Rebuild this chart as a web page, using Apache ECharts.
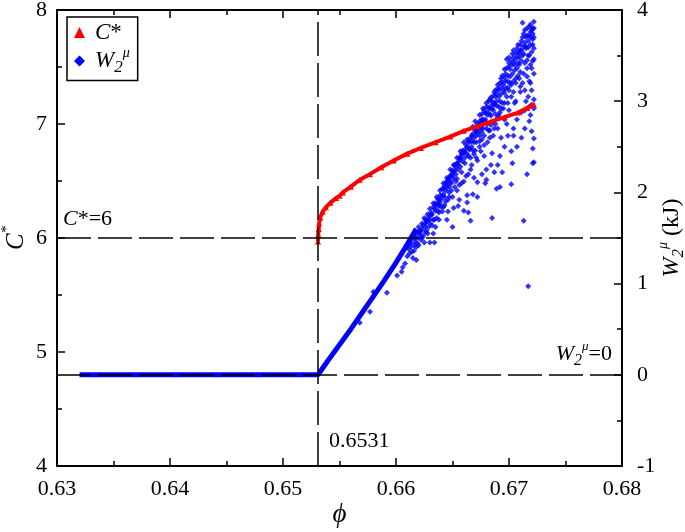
<!DOCTYPE html>
<html><head><meta charset="utf-8">
<script src="https://cdn.jsdelivr.net/npm/echarts@6/dist/echarts.min.js"></script>
<style>html,body{margin:0;padding:0;background:#fff}#c{width:685px;height:532px}</style>
</head><body><div id="c"></div>
<script>
// ---- data ----
const phiTicks = [0.63, 0.64, 0.65, 0.66, 0.67, 0.68];
const cStarTicks = [4, 5, 6, 7, 8];
const w2Ticks = [-1, 0, 1, 2, 3, 4];

const cStarPhi = [0.6531, 0.65312, 0.65316, 0.6532, 0.6533, 0.6535, 0.6538, 0.6542, 0.6547, 0.655, 0.6553, 0.656, 0.6568, 0.6577, 0.6587, 0.6598, 0.661, 0.6622, 0.6635, 0.6648, 0.666, 0.6672, 0.6684, 0.6696, 0.6708, 0.6716, 0.6722];
const cStarVal = [5.97, 6.03, 6.08, 6.13, 6.18, 6.23, 6.27, 6.31, 6.35, 6.37, 6.40, 6.45, 6.51, 6.56, 6.62, 6.68, 6.74, 6.79, 6.84, 6.89, 6.94, 6.98, 7.02, 7.06, 7.10, 7.14, 7.17];

const w2TrunkPhi = [0.632, 0.6531, 0.654, 0.655, 0.656, 0.657, 0.658, 0.659, 0.660, 0.661, 0.6618];
const w2TrunkVal = [0, 0, 0.16, 0.33, 0.50, 0.68, 0.86, 1.04, 1.23, 1.43, 1.60];

const w2Cloud = [
[0.6568,0.57],[0.6577,0.69],[0.6580,0.91],[0.6592,0.90],[0.6601,1.09],[0.6605,1.13],
[0.6606,1.18],[0.6608,1.22],[0.6610,1.30],[0.6612,1.33],[0.6613,1.40],[0.6615,1.28],[0.6616,1.36],[0.6617,1.46],[0.6618,1.26],[0.6619,1.50],
[0.6620,1.42],[0.6621,1.55],[0.6622,1.48],[0.6623,1.60],[0.6624,1.52],[0.6625,1.45],[0.6626,1.66],[0.6627,1.58],[0.6628,1.70],[0.6629,1.62],
[0.6630,1.45],[0.6631,1.75],[0.6632,1.64],[0.6633,1.55],[0.6634,1.45],[0.6635,1.80],[0.6636,1.72],[0.6637,1.88],[0.6638,1.78],[0.6640,1.92],
[0.6641,1.79],[0.6642,1.98],[0.6643,1.86],[0.6644,2.02],[0.6646,1.79],[0.6646,2.08],[0.6647,1.95],[0.6648,2.12],[0.6649,2.02],[0.6650,2.18],
[0.6651,1.83],[0.6652,2.06],[0.6652,2.24],[0.6654,2.15],[0.6655,2.30],[0.6656,1.92],[0.6656,2.08],[0.6657,2.36],[0.6658,2.22],[0.6659,2.42],
[0.6660,2.12],[0.6661,2.32],[0.6662,2.48],[0.6663,1.89],[0.6663,1.97],[0.6664,2.40],[0.6665,2.55],[0.6666,1.69],[0.6666,2.25],[0.6667,2.62],
[0.6668,2.46],[0.6669,2.16],[0.6670,2.68],[0.6671,2.55],[0.6672,2.11],[0.6672,2.35],[0.6673,2.74],[0.6674,2.62],[0.6675,2.45],[0.6676,2.80],
[0.6677,2.70],[0.6678,2.52],[0.6679,2.87],[0.6680,2.14],[0.6680,2.25],[0.6681,2.75],[0.6682,2.93],[0.6683,2.60],[0.6684,2.84],[0.6685,1.72],
[0.6685,2.43],[0.6685,3.00],[0.6686,2.90],[0.6687,2.70],[0.6688,3.05],[0.6689,2.04],[0.6689,2.95],[0.6690,2.30],[0.6690,2.82],[0.6691,3.12],
[0.6692,3.00],[0.6692,2.06],[0.6693,2.60],[0.6694,3.21],[0.6694,2.22],[0.6695,2.92],[0.6696,3.09],[0.6697,3.30],[0.6698,2.75],[0.6698,3.46],
[0.6699,3.15],[0.6700,2.90],[0.6700,3.38],[0.6701,3.27],[0.6702,2.09],[0.6702,2.45],[0.6702,3.05],[0.6703,2.32],[0.6703,3.52],[0.6704,2.62],
[0.6705,3.34],[0.6705,2.98],[0.6706,3.20],[0.6707,2.80],[0.6708,3.54],[0.6708,3.42],[0.6709,3.40],[0.6710,3.10],[0.6710,3.62],[0.6710,3.16],
[0.6711,2.88],[0.6712,3.86],[0.6712,3.50],[0.6713,1.69],[0.6713,3.30],[0.6714,3.64],[0.6714,2.70],[0.6715,3.70],[0.6715,3.00],[0.6716,3.27],
[0.6716,3.45],[0.6717,0.97],[0.6717,3.59],[0.6717,3.05],[0.6718,3.72],[0.6718,2.94],[0.6719,3.76],[0.6719,3.40],[0.6719,2.85],[0.6720,3.54],
[0.6720,2.67],[0.6720,3.12],[0.6721,3.74],[0.6721,2.32],[0.6721,2.48],[0.6721,3.62],[0.6722,3.87],[0.6722,2.59],[0.6722,2.92],[0.6722,3.30],[0.6722,2.33],
[0.6660,2.55],[0.6663,2.58],[0.6668,2.72],[0.6670,2.78],[0.6674,2.85],[0.6677,2.92],[0.6680,2.98],[0.6683,3.02],[0.6687,3.10],[0.6690,3.18],
[0.6693,3.25],[0.6696,3.35],[0.6700,3.42],[0.6704,3.48],[0.6707,3.58],[0.6711,3.66],[0.6713,3.74],[0.6716,3.80],[0.6719,3.84],
[0.6664,2.20],[0.6667,2.30],[0.6669,2.42],[0.6671,2.38],[0.6674,2.50],[0.6676,2.58],[0.6678,2.40],[0.6681,2.55],[0.6683,2.68],[0.6686,2.62],
[0.6688,2.75],[0.6691,2.85],[0.6693,2.92],[0.6696,2.80],[0.6699,2.98],[0.6704,3.10],[0.6706,3.00],[0.6709,3.25],
[0.6620,1.62],[0.6625,1.72],[0.6630,1.82],[0.6633,1.88],[0.6636,1.95],[0.6639,2.02],[0.6642,2.10],[0.6645,2.16],[0.6648,2.25],[0.6651,2.30],
[0.6654,2.38],[0.6657,2.45],[0.6644,1.90],[0.6638,1.85],[0.6647,2.00],[0.6653,2.12],
[0.6612,1.45],[0.6614,1.49],[0.6616,1.52],[0.6618,1.55],[0.6621,1.58],[0.6623,1.66],[0.6626,1.70],[0.6628,1.76],[0.6631,1.78],[0.6633,1.84],
[0.6635,1.88],[0.6637,1.93],[0.6639,1.97],[0.6641,2.04],[0.6643,2.07],[0.6645,2.12],[0.6647,2.16],[0.6649,2.20],[0.6651,2.22],[0.6653,2.28],
[0.6655,2.33],[0.6657,2.38],[0.6659,2.46],[0.6661,2.44],[0.6663,2.50],[0.6665,2.47],[0.6667,2.56],[0.6669,2.60],[0.6671,2.66],[0.6673,2.70],
[0.6675,2.76],[0.6677,2.80],[0.6679,2.78],[0.6681,2.85],[0.6683,2.92],[0.6685,2.96],[0.6687,2.98],[0.6689,3.08],[0.6691,3.05],[0.6693,3.15],
[0.6695,3.18],[0.6697,3.22],[0.6699,3.28],[0.6701,3.35],[0.6703,3.40],[0.6705,3.44],[0.6707,3.48],[0.6709,3.52],[0.6711,3.56],[0.6713,3.60],
[0.6715,3.58],[0.6717,3.66],[0.6719,3.70],[0.6721,3.80],
[0.6618,1.40],[0.6622,1.52],[0.6626,1.56],[0.6630,1.66],[0.6634,1.70],[0.6638,1.70],[0.6642,1.84],[0.6646,1.92],[0.6650,1.95],[0.6654,2.02],
[0.6658,2.10],[0.6662,2.18],[0.6666,2.38],[0.6670,2.46],[0.6674,2.56],[0.6678,2.62],[0.6682,2.68],[0.6686,2.78],[0.6690,2.70],[0.6694,2.98],
[0.6698,3.05],[0.6702,3.18],[0.6706,3.25],[0.6710,3.32],[0.6714,3.42],[0.6718,3.50],[0.6722,3.58],
[0.6645,1.70],[0.6650,1.62],[0.6655,1.85],[0.6660,1.80],[0.6664,1.78],[0.6668,1.98],[0.6672,1.95],[0.6676,2.20],[0.6679,2.10],[0.6684,2.30],
[0.6687,2.22],[0.6692,2.40],[0.6696,2.50],[0.6699,2.62],[0.6704,2.70],[0.6707,2.50],[0.6711,2.60],[0.6714,2.90],[0.6716,2.20],[0.6718,2.78],
[0.6720,2.96],[0.6722,3.02],[0.6719,3.20],[0.6721,3.44],[0.6722,3.70],
[0.6611,1.38],[0.6613,1.44],[0.6614,1.35],[0.6616,1.42],[0.6617,1.50],[0.6619,1.44],[0.6620,1.56],[0.6622,1.58],[0.6623,1.50],[0.6624,1.64],
[0.6626,1.62],[0.6627,1.68],[0.6628,1.55],[0.6629,1.74],[0.6630,1.70],[0.6632,1.76],[0.6633,1.70],[0.6634,1.82],[0.6635,1.62],[0.6636,1.86],
[0.6637,1.80],[0.6638,1.92],[0.6639,1.88],[0.6640,1.84],
[0.6641,1.96],[0.6642,2.04],[0.6643,1.95],[0.6644,2.10],[0.6645,2.05],[0.6646,2.14],[0.6647,2.06],[0.6648,2.18],[0.6649,2.10],[0.6650,2.24],
[0.6651,2.15],[0.6652,2.30],[0.6653,2.20],[0.6654,2.32],[0.6655,2.25],[0.6656,2.38],[0.6657,2.28],[0.6658,2.42],[0.6659,2.34],[0.6660,2.45],
[0.6661,2.38],[0.6662,2.52],[0.6663,2.42],[0.6664,2.56],[0.6665,2.48],[0.6666,2.60],[0.6667,2.50],[0.6668,2.64],[0.6669,2.55],[0.6670,2.70],
[0.6671,2.62],[0.6672,2.75],[0.6673,2.66],[0.6674,2.78],[0.6675,2.70],[0.6676,2.86],[0.6677,2.75],[0.6678,2.90],[0.6679,2.80],[0.6680,2.94],
[0.6681,2.88],[0.6682,3.00],[0.6683,2.86],[0.6684,3.04],[0.6685,2.92],[0.6686,3.06],[0.6687,2.96],[0.6688,3.12],[0.6689,3.00],[0.6690,3.14],
[0.6691,2.94],[0.6692,3.20],[0.6693,3.08],[0.6694,3.28],[0.6695,3.12],[0.6696,3.26],[0.6697,3.14],[0.6698,3.36],[0.6699,3.22],[0.6700,3.48],
[0.6701,3.20],[0.6702,3.44],[0.6703,3.30],[0.6704,3.56],[0.6705,3.40],[0.6706,3.52],[0.6707,3.36],[0.6708,3.62],[0.6709,3.48],[0.6710,3.56],
[0.6711,3.44],[0.6712,3.70],[0.6713,3.52],[0.6714,3.78],[0.6715,3.60],[0.6716,3.72],[0.6717,3.50],[0.6718,3.82],[0.6719,3.62],[0.6720,3.78],
[0.6721,3.68],[0.6722,3.80],[0.6716,3.36],[0.6712,3.20],[0.6708,3.28],[0.6704,3.22],[0.6700,3.12],[0.6696,2.98],[0.6692,2.88],[0.6688,2.86],
[0.6684,2.74],[0.6680,2.70],[0.6676,2.66],[0.6720,3.36],[0.6722,3.46],[0.6718,3.22],[0.6714,3.12]
];

const criticalPhi = 0.6531;
const cStarRef = 6;
const w2Ref = 0;

// ---- styling ----
const FF = 'Times New Roman, Liberation Serif, Tinos, serif';
function rich(S, lead) {
  return {
    it: {fontFamily: FF, fontStyle: 'italic', fontSize: S, color: '#000', padding: [0, 0, 0, lead || 0]},
    rm: {fontFamily: FF, fontSize: S, color: '#000'},
    sup: {fontFamily: FF, fontStyle: 'italic', fontSize: Math.round(S * 0.6), color: '#000', padding: [0, 0, Math.round(S * 0.7), 0]},
    sub: {fontFamily: FF, fontStyle: 'italic', fontSize: Math.round(S * 0.72), color: '#000', padding: [Math.round(S * 0.6), 0, 0, 0]}
  };
}
const axisLine = {show: true, onZero: false, lineStyle: {color: '#000', width: 2}};
const axisTick = {show: true, inside: true, length: 8, lineStyle: {color: '#000', width: 1.5}};
const minorTick = {show: true, splitNumber: 2, length: 5, lineStyle: {color: '#000', width: 1.5}};
const labelStyle = {color: '#000', fontFamily: FF, fontSize: 22};
const dash = {color: '#000', width: 1.5, type: [34, 7]};

const chart = echarts.init(document.getElementById('c'), null, {renderer: 'canvas'});
chart.setOption({
  animation: false,
  backgroundColor: '#fff',
  grid: {left: 57, right: 63, top: 10, bottom: 66, containLabel: false, outerBoundsMode: 'none'},
  legend: {
    left: 67, top: 17, orient: 'vertical',
    borderColor: '#000', borderWidth: 1.5, borderRadius: 0,
    padding: [4, 8, 4, 7], itemWidth: 11, itemHeight: 11, itemGap: 2,
    data: [{name: 'C*', icon: 'triangle'}, {name: 'W2', icon: 'diamond'}],
    formatter: n => n === 'C*' ? '{it|C}{rm|*}' : '{it|W}{sub|2}{sup|μ}',
    textStyle: {rich: rich(23, 5)}
  },
  xAxis: [{
    type: 'value', position: 'bottom', min: phiTicks[0], max: phiTicks[phiTicks.length - 1], interval: 0.01,
    axisLine, axisTick, minorTick, splitLine: {show: false},
    axisLabel: Object.assign({margin: 12, formatter: v => v.toFixed(2)}, labelStyle),
    name: '{it|ϕ}', nameLocation: 'middle', nameGap: 35, nameMoveOverlap: false,
    nameTextStyle: {rich: rich(27)}
  }, {
    type: 'value', position: 'top', min: phiTicks[0], max: phiTicks[phiTicks.length - 1], interval: 0.01,
    axisLine, axisTick, minorTick, splitLine: {show: false}, axisLabel: {show: false}
  }],
  yAxis: [{
    type: 'value', position: 'left', min: cStarTicks[0], max: cStarTicks[cStarTicks.length - 1], interval: 1,
    axisLine, axisTick, minorTick, splitLine: {show: false},
    axisLabel: Object.assign({margin: 10}, labelStyle),
    name: '{it|C}{sup|*}', nameLocation: 'middle', nameRotate: 90, nameGap: 24, nameMoveOverlap: false,
    nameTextStyle: {rich: rich(25)}
  }, {
    type: 'value', position: 'right', min: w2Ticks[0], max: w2Ticks[w2Ticks.length - 1], interval: 1,
    axisLine, axisTick, minorTick, splitLine: {show: false},
    axisLabel: Object.assign({margin: 15}, labelStyle),
    name: '{it|W}{sub|2}{sup|μ}{rm| (kJ)}', nameLocation: 'middle', nameRotate: 90, nameGap: 34, nameMoveOverlap: false,
    nameTextStyle: {rich: rich(24)}
  }],
  series: [{
    name: 'C*', type: 'line', xAxisIndex: 0, yAxisIndex: 0,
    data: cStarPhi.map((p, i) => [p, cStarVal[i]]),
    symbol: 'triangle', symbolSize: 6, showAllSymbol: true,
    lineStyle: {color: '#ff0000', width: 4}, itemStyle: {color: '#ff0000'}, z: 4,
    markLine: {
      silent: true, symbol: 'none', lineStyle: dash, label: {show: false}, precision: 4,
      data: [
        [{coord: [phiTicks[0], cStarRef]}, {coord: [phiTicks[phiTicks.length - 1], cStarRef]}],
        [{coord: [criticalPhi, cStarTicks[0]]}, {coord: [criticalPhi, cStarTicks[cStarTicks.length - 1]]}]
      ]
    }
  }, {
    name: 'W2', type: 'line', xAxisIndex: 0, yAxisIndex: 1,
    data: w2TrunkPhi.map((p, i) => [p, w2TrunkVal[i]]),
    symbol: 'none', lineStyle: {color: '#0000ff', width: 5}, itemStyle: {color: '#0000ff'}, z: 3,
    markLine: {
      silent: true, symbol: 'none', lineStyle: dash, label: {show: false},
      data: [{yAxis: w2Ref}]
    }
  }, {
    name: 'W2', type: 'scatter', xAxisIndex: 0, yAxisIndex: 1,
    data: w2Cloud, symbol: 'diamond', symbolSize: 6,
    itemStyle: {color: '#0000ff'}, z: 3
  }]
});

// annotations anchored to data coordinates
const pC = chart.convertToPixel({xAxisIndex: 0, yAxisIndex: 0}, [phiTicks[0], cStarRef]);
const pPhi = chart.convertToPixel({xAxisIndex: 0, yAxisIndex: 0}, [criticalPhi, cStarTicks[0]]);
const pW = chart.convertToPixel({xAxisIndex: 0, yAxisIndex: 1}, [phiTicks[phiTicks.length - 1], w2Ref]);
chart.setOption({
  graphic: [
    {type: 'text', x: pC[0] + 6, y: pC[1] - 19, z: 10,
     style: {text: '{it|C}{rm|*=6}', rich: rich(22), align: 'left', verticalAlign: 'middle'}},
    {type: 'text', x: pPhi[0] + 11, y: pPhi[1] - 25, z: 10,
     style: {text: '{rm|0.6531}', rich: rich(22), align: 'left', verticalAlign: 'middle'}},
    {type: 'text', x: pW[0] - 10, y: pW[1] - 21, z: 10,
     style: {text: '{it|W}{sub|2}{sup|μ}{rm|=0}', rich: rich(22), align: 'right', verticalAlign: 'middle'}}
  ]
});
</script>
</body></html>
